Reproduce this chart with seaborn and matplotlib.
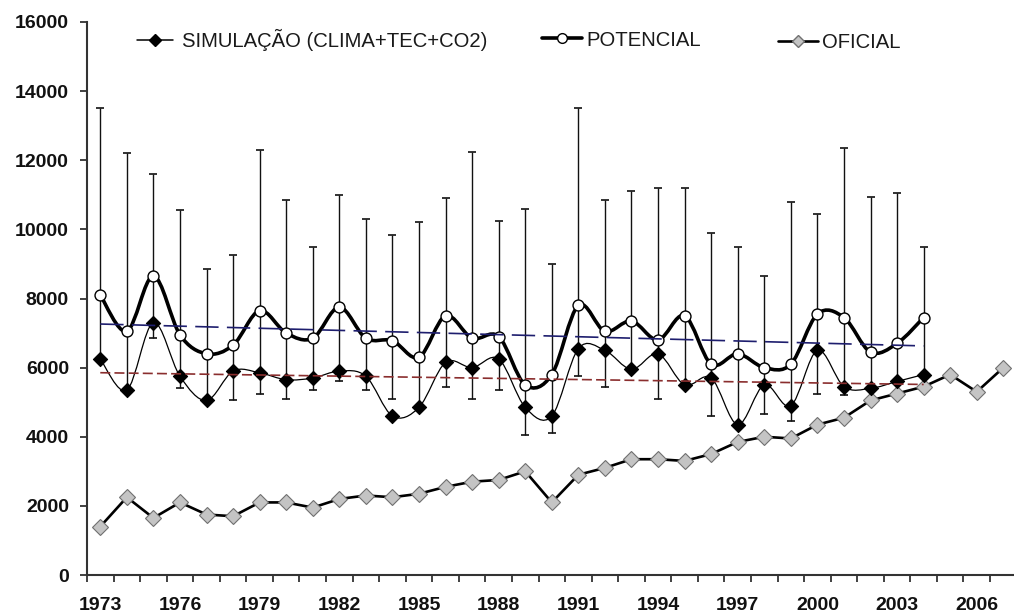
import numpy as np
import pandas as pd
import matplotlib
matplotlib.use("Agg")
import matplotlib.pyplot as plt
from matplotlib.path import Path
from matplotlib.patches import PathPatch
from matplotlib.lines import Line2D
import seaborn as sns

# ---------------- data ----------------
years_sim = list(range(1973, 2005))
simulacao = [6250, 5350, 7300, 5750, 5050, 5900, 5850, 5650, 5700, 5900,
             5750, 4600, 4850, 6150, 6000, 6250, 4850, 4600, 6550, 6500,
             5950, 6400, 5500, 5700, 4350, 5500, 4900, 6500, 5450, 5400,
             5600, 5800]
potencial = [8100, 7050, 8650, 6950, 6400, 6650, 7650, 7000, 6850, 7750,
             6850, 6780, 6300, 7500, 6850, 6900, 5500, 5800, 7800, 7050,
             7350, 6800, 7500, 6100, 6400, 6000, 6100, 7550, 7450, 6450,
             6700, 7450]
erro_sup = [13500, 12200, 11600, 10550, 8850, 9250, 12300, 10850, 9500, 11000,
            10300, 9850, 10200, 10900, 12250, 10250, 10600, 9000, 13500, 10850,
            11100, 11200, 11200, 9900, 9500, 8650, 10800, 10450, 12350, 10950,
            11050, 9500]
erro_inf = [6250, 5350, 6850, 5400, 5050, 5050, 5250, 5100, 5350, 5600,
            5350, 5100, 4850, 5450, 5100, 5350, 4050, 4100, 5750, 5450,
            5950, 5100, 5500, 4600, 4350, 4650, 4450, 5250, 5200, 5400,
            5600, 5800]
years_oficial = list(range(1973, 2008))
oficial = [1400, 2250, 1650, 2100, 1750, 1700, 2100, 2100, 1950, 2200,
           2300, 2250, 2350, 2550, 2700, 2750, 3000, 2100, 2900, 3100,
           3350, 3350, 3300, 3500, 3850, 4000, 3950, 4350, 4550, 5050,
           5250, 5450, 5800, 5300, 6000]
xtick_years = [1973, 1976, 1979, 1982, 1985, 1988, 1991, 1994, 1997, 2000, 2003, 2006]
yticks = [0, 2000, 4000, 6000, 8000, 10000, 12000, 14000, 16000]
labels = ["SIMULAÇÃO (CLIMA+TEC+CO2)", "POTENCIAL", "OFICIAL"]

# ---------------- style ----------------
sns.set_style("white")
plt.rcParams['font.family'] = ['Liberation Sans', 'DejaVu Sans']

W, H = 1014, 615
fig = plt.figure(figsize=(W / 100, H / 100), dpi=100)
ax = fig.add_axes([87 / W, 1 - 575 / H, 929.6 / W, (575 - 22) / H])

df_sim = pd.DataFrame({"ano": years_sim, "valor": simulacao})
df_pot = pd.DataFrame({"ano": years_sim, "valor": potencial})
df_ofi = pd.DataFrame({"ano": years_oficial, "valor": oficial})


def smooth_path(x, y):
    x = np.asarray(x, float)
    y = np.asarray(y, float)
    n = len(x)
    verts = [(x[0], y[0])]
    codes = [Path.MOVETO]
    for i in range(n - 1):
        xa, ya = (x[i - 1], y[i - 1]) if i > 0 else (x[i], y[i])
        xd, yd = (x[i + 2], y[i + 2]) if i + 2 < n else (x[i + 1], y[i + 1])
        c1 = (x[i] + (x[i + 1] - xa) / 6, y[i] + (y[i + 1] - ya) / 6)
        c2 = (x[i + 1] - (xd - x[i]) / 6, y[i + 1] - (yd - y[i]) / 6)
        verts += [c1, c2, (x[i + 1], y[i + 1])]
        codes += [Path.CURVE4] * 3
    return Path(verts, codes)


# error bars (range)
pot = np.array(potencial, float)
ax.errorbar(years_sim, pot,
            yerr=[pot - np.array(erro_inf), np.array(erro_sup) - pot],
            fmt='none', ecolor='#111111', elinewidth=1.0, capsize=3,
            capthick=1.2, zorder=2)

# smoothed lines
ax.add_patch(PathPatch(smooth_path(years_sim, simulacao), fill=False,
                       edgecolor='black', lw=0.9, zorder=3))
ax.add_patch(PathPatch(smooth_path(years_sim, potencial), fill=False,
                       edgecolor='black', lw=2.6, zorder=3))

# oficial line + markers
sns.lineplot(data=df_ofi, x="ano", y="valor", ax=ax, color='black', lw=1.9,
             marker='D', markersize=8, markerfacecolor='#c4c4c4',
             markeredgecolor='#707070', markeredgewidth=0.8, zorder=4)

# markers
sns.scatterplot(data=df_sim, x="ano", y="valor", ax=ax, marker='D', s=52,
                color='black', edgecolor='black', linewidth=0.8, zorder=5)
sns.scatterplot(data=df_pot, x="ano", y="valor", ax=ax, marker='o', s=62,
                color='white', edgecolor='black', linewidth=1.0, zorder=5)

# trend lines (linear fit)
xs = np.array(years_sim, float)
cp = np.polyfit(xs, potencial, 1)
cs = np.polyfit(xs, simulacao, 1)
ax.plot(xs, np.polyval(cp, xs), color='#1e1e6e', lw=1.2, dashes=(14, 5), zorder=6)
ax.plot(xs, np.polyval(cs, xs), color='#8a2e2e', lw=1.2, dashes=(6, 2.5), zorder=6)

# axes
ax.set_xlim(1972.5, 2007.5)
ax.set_ylim(0, 16000)
ax.set_xlabel("")
ax.set_ylabel("")
ax.set_yticks(yticks)
ax.set_yticklabels([str(v) for v in yticks], fontsize=14, fontweight='bold',
                   color='#111111')
ax.set_xticks(xtick_years)
ax.set_xticklabels([str(v) for v in xtick_years], fontsize=14,
                   fontweight='bold', color='#111111')
ax.set_xticks(np.arange(1972.5, 2008, 1.0), minor=True)
ax.tick_params(axis='x', which='major', length=0, pad=16)
ax.tick_params(axis='x', which='minor', length=5, width=1.3, color='#333333',
               direction='out', bottom=True)
ax.tick_params(axis='y', which='major', length=5, width=1.3, color='#333333',
               direction='out', pad=8, left=True)
for s in ['top', 'right']:
    ax.spines[s].set_visible(False)
for s in ['left', 'bottom']:
    ax.spines[s].set_color('#333333')
    ax.spines[s].set_linewidth(1.5)
ax.grid(False)

# legends
h_sim = Line2D([], [], color='black', lw=1.1, marker='D', markersize=6,
               markerfacecolor='black', markeredgecolor='black')
h_pot = Line2D([], [], color='black', lw=2.6, marker='o', markersize=7,
               markerfacecolor='white', markeredgecolor='black')
h_ofi = Line2D([], [], color='black', lw=1.9, marker='D', markersize=6,
               markerfacecolor='#c4c4c4', markeredgecolor='#707070')

fs = 14.6
specs = [(h_sim, labels[0], 137, 40, 1.78, 0.42),
         (h_pot, labels[1], 542, 40, 1.97, 0.2),
         (h_ofi, labels[2], 778, 43, 1.97, 0.2)]
for h, lab, x0, yc, hl, tp in specs:
    fig.legend(handles=[h], labels=[lab], loc='center left',
               bbox_to_anchor=(x0 / W, 1 - yc / H), frameon=False,
               borderpad=0, borderaxespad=0, handlelength=hl,
               handletextpad=tp, fontsize=fs, labelcolor='#1a1a1a')

fig.savefig("out.png", dpi=100)
